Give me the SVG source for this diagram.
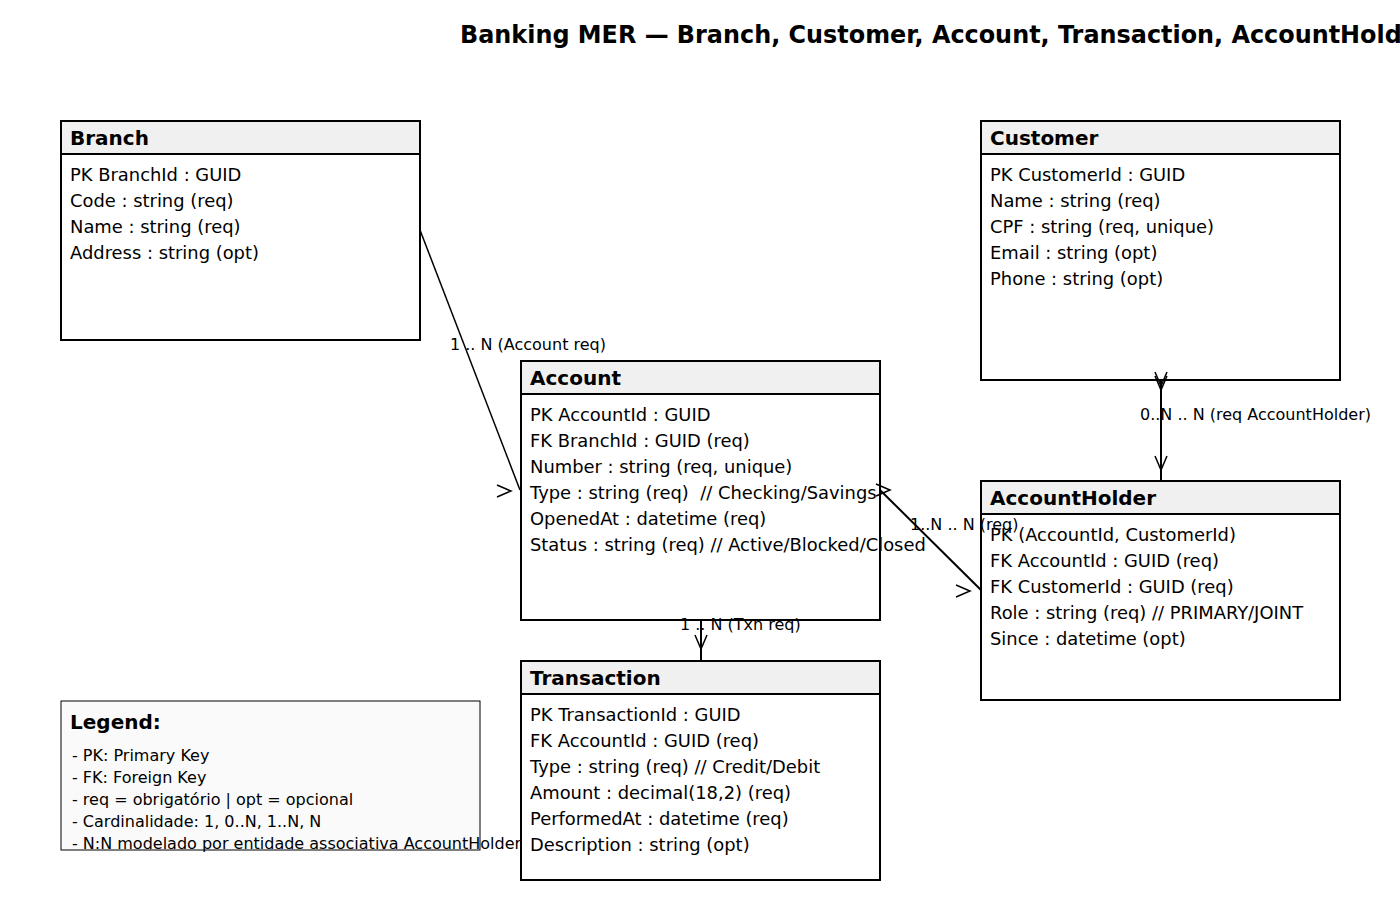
<svg xmlns="http://www.w3.org/2000/svg" width="1400" height="900" viewBox="0 0 1400 900">
<style>
.box{fill:#ffffff;stroke:#000;stroke-width:2}
.hdr{fill:#f0f0f0;stroke:#000;stroke-width:2}
.ttl{font-family:"DejaVu Sans",sans-serif;font-weight:bold;font-size:20px;fill:#000}
.row{font-family:"DejaVu Sans",sans-serif;font-size:17.9px;fill:#000;white-space:pre}
.lbl{font-family:"DejaVu Sans",sans-serif;font-size:16px;fill:#000}
.leg{font-family:"DejaVu Sans",sans-serif;font-size:16px;fill:#000}
.conn{stroke:#000;stroke-width:2;fill:none}
.thin{stroke:#000;stroke-width:1.5;fill:none}
.arr{stroke:#000;stroke-width:1.5;fill:none}
</style>
<defs>
<path id="ah" d="M-14,-6 L0,0 L-14,6" class="arr"/>
</defs>
<rect width="1400" height="900" fill="#ffffff"/>
<text x="460" y="43" font-family="DejaVu Sans, sans-serif" font-weight="bold" font-size="23.9">Banking MER — Branch, Customer, Account, Transaction, AccountHolder</text>

<g id="connectors">
<line x1="420" y1="230" x2="520" y2="490" class="thin"/>
<use href="#ah" transform="translate(511,491)"/>
<text x="450" y="350" class="lbl">1 .. N (Account req)</text>

<line x1="1161" y1="380" x2="1161" y2="481" class="conn"/>
<use href="#ah" transform="translate(1161,390) rotate(90)"/>
<use href="#ah" transform="translate(1161,386) rotate(90)"/>
<use href="#ah" transform="translate(1161,470) rotate(90)"/>
<text x="1140" y="420" class="lbl">0..N .. N (req AccountHolder)</text>

<line x1="880" y1="490" x2="981" y2="590" class="conn"/>
<use href="#ah" transform="translate(890,490)"/>
<use href="#ah" transform="translate(970,591)"/>
<text x="910" y="530" class="lbl">1..N .. N (req)</text>

<line x1="701" y1="620" x2="701" y2="661" class="conn"/>
<use href="#ah" transform="translate(701,649) rotate(90)"/>
<text x="680" y="630" class="lbl">1 .. N (Txn req)</text>
</g>

<g id="branch">
<text x="70" y="181" class="row">PK BranchId : GUID</text>
<text x="70" y="207" class="row">Code : string (req)</text>
<text x="70" y="233" class="row">Name : string (req)</text>
<text x="70" y="259" class="row">Address : string (opt)</text>
<rect x="61" y="121" width="359" height="219" class="box" fill-opacity="0"/>
<rect x="61" y="121" width="359" height="33" class="hdr"/>
<text x="70" y="145" class="ttl">Branch</text>
</g>

<g id="customer">
<text x="990" y="181" class="row">PK CustomerId : GUID</text>
<text x="990" y="207" class="row">Name : string (req)</text>
<text x="990" y="233" class="row">CPF : string (req, unique)</text>
<text x="990" y="259" class="row">Email : string (opt)</text>
<text x="990" y="285" class="row">Phone : string (opt)</text>
<rect x="981" y="121" width="359" height="259" class="box" fill-opacity="0"/>
<rect x="981" y="121" width="359" height="33" class="hdr"/>
<text x="990" y="145" class="ttl">Customer</text>
</g>

<g id="account">
<text x="530" y="421" class="row">PK AccountId : GUID</text>
<text x="530" y="447" class="row">FK BranchId : GUID (req)</text>
<text x="530" y="473" class="row">Number : string (req, unique)</text>
<text x="530" y="499" class="row">Type : string (req)  // Checking/Savings</text>
<text x="530" y="525" class="row">OpenedAt : datetime (req)</text>
<text x="530" y="551" class="row">Status : string (req) // Active/Blocked/Closed</text>
<rect x="521" y="361" width="359" height="259" class="box" fill-opacity="0"/>
<rect x="521" y="361" width="359" height="33" class="hdr"/>
<text x="530" y="385" class="ttl">Account</text>
</g>

<g id="accountholder">
<text x="990" y="541" class="row">PK (AccountId, CustomerId)</text>
<text x="990" y="567" class="row">FK AccountId : GUID (req)</text>
<text x="990" y="593" class="row">FK CustomerId : GUID (req)</text>
<text x="990" y="619" class="row">Role : string (req) // PRIMARY/JOINT</text>
<text x="990" y="645" class="row">Since : datetime (opt)</text>
<rect x="981" y="481" width="359" height="219" class="box" fill-opacity="0"/>
<rect x="981" y="481" width="359" height="33" class="hdr"/>
<text x="990" y="505" class="ttl">AccountHolder</text>
</g>

<g id="transaction">
<text x="530" y="721" class="row">PK TransactionId : GUID</text>
<text x="530" y="747" class="row">FK AccountId : GUID (req)</text>
<text x="530" y="773" class="row">Type : string (req) // Credit/Debit</text>
<text x="530" y="799" class="row">Amount : decimal(18,2) (req)</text>
<text x="530" y="825" class="row">PerformedAt : datetime (req)</text>
<text x="530" y="851" class="row">Description : string (opt)</text>
<rect x="521" y="661" width="359" height="219" class="box" fill-opacity="0"/>
<rect x="521" y="661" width="359" height="33" class="hdr"/>
<text x="530" y="685" class="ttl">Transaction</text>
</g>

<g id="legend">
<rect x="61" y="701" width="419" height="149" fill="#fafafa" stroke="#000" stroke-width="1"/>
<text x="70" y="729" class="ttl">Legend:</text>
<text x="72" y="761" class="leg">- PK: Primary Key</text>
<text x="72" y="783" class="leg">- FK: Foreign Key</text>
<text x="72" y="805" class="leg">- req = obrigatório | opt = opcional</text>
<text x="72" y="827" class="leg">- Cardinalidade: 1, 0..N, 1..N, N</text>
<text x="72" y="849" class="leg">- N:N modelado por entidade associativa AccountHolder</text>
</g>
</svg>
